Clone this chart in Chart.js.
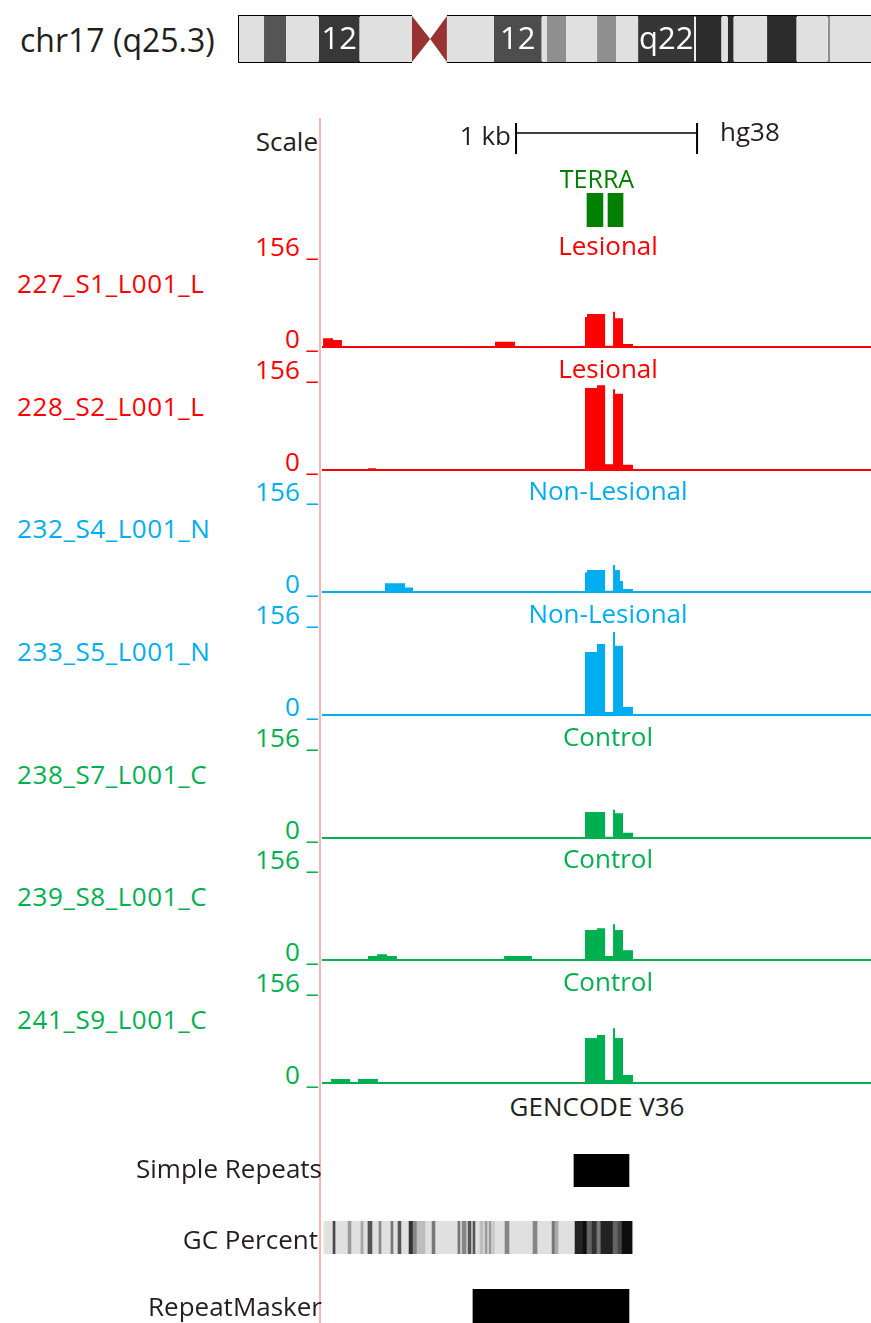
<!DOCTYPE html>
<html>
<head>
<meta charset="utf-8">
<script src="https://cdn.jsdelivr.net/npm/chart.js@4/dist/chart.umd.min.js"></script>
<style>
  html, body { margin: 0; padding: 0; background: #fff; }
  #page { position: relative; width: 871px; height: 1323px; overflow: hidden; font-family: "Open Sans", sans-serif; background: #fff; }
  #page canvas { position: absolute; }
  .t { position: absolute; white-space: nowrap; line-height: 1; }
  #guide { position: absolute; left: 319px; top: 118px; width: 2px; height: 1205px; background: #ffb4b4; }
</style>
</head>
<body>
<div id="page"><div id="guide"></div></div>
<script>
// ---- window and scales -------------------------------------------------
const WINDOW_BP = 3033;          // bases shown across the track area
const SIGNAL_MAX = 156;          // data range of every signal track
const CHROM_MB = 83.3;           // chr17 length shown in the ideogram
const scaleBarBp = [1072, 2072]; // 1 kb scale bar

// ---- chromosome ideogram bands (Mb) -------------------------------------
const bandStart = [0, 3.3, 6.2, 10.5, 15.9, 27.4, 33.6, 39.9, 40.6, 43.1, 47.2, 49.7, 52.6, 60.0, 60.2, 63.6, 64.4, 65.2, 69.6, 73.5, 77.6, 77.9];
const bandEnd   = [3.3, 6.2, 10.5, 15.9, 22.8, 33.6, 39.9, 40.6, 43.1, 47.2, 49.7, 52.6, 60.0, 60.2, 63.6, 64.4, 65.2, 69.6, 73.5, 77.6, 77.9, 83.3];
const bandStain = ['#e0e0e0', '#555555', '#e0e0e0', '#383838', '#e0e0e0', '#e0e0e0', '#4d4d4d', '#e0e0e0', '#8f8f8f', '#e0e0e0', '#8f8f8f', '#e0e0e0', '#363636', '#ececec', '#2b2b2b', '#e0e0e0', '#2b2b2b', '#e0e0e0', '#2b2b2b', '#e0e0e0', '#8f8f8f', '#e0e0e0'];
const bandLabel = ['', '', '', '12', '', '', '12', '', '', '', '', '', 'q22', '', '', '', '', '', '', '', '', ''];
const centromere = [22.8, 25.2, 27.4];

// ---- signal tracks: [start bp, end bp, value] ---------------------------
const s1Bins = [[6, 61, 15], [61, 110, 12], [956, 1066, 9], [1453, 1464, 52], [1464, 1564, 57], [1564, 1608, 2], [1608, 1619, 61], [1619, 1663, 50], [1663, 1718, 5]];
const s2Bins = [[254, 298, 3], [1453, 1519, 142], [1519, 1564, 147], [1564, 1608, 10], [1608, 1619, 140], [1619, 1663, 132], [1663, 1718, 9]];
const s4Bins = [[348, 459, 15], [459, 503, 8], [1453, 1464, 34], [1464, 1564, 38], [1564, 1608, 2], [1608, 1619, 47], [1619, 1646, 38], [1646, 1663, 19], [1663, 1718, 5]];
const s5Bins = [[1453, 1519, 109], [1519, 1564, 123], [1564, 1608, 5], [1608, 1619, 144], [1619, 1663, 120], [1663, 1718, 14]];
const s7Bins = [[1453, 1564, 45], [1564, 1608, 2], [1608, 1619, 49], [1619, 1663, 43], [1663, 1718, 9]];
const s8Bins = [[254, 304, 7], [304, 359, 10], [359, 414, 7], [1006, 1160, 7], [1453, 1519, 52], [1519, 1564, 55], [1564, 1608, 7], [1608, 1619, 62], [1619, 1663, 52], [1663, 1718, 17]];
const s9Bins = [[50, 155, 7], [199, 309, 7], [1453, 1519, 78], [1519, 1564, 83], [1564, 1608, 5], [1608, 1619, 95], [1619, 1663, 78], [1663, 1718, 14]];

const trackNames  = ['227_S1_L001_L', '228_S2_L001_L', '232_S4_L001_N', '233_S5_L001_N', '238_S7_L001_C', '239_S8_L001_C', '241_S9_L001_C'];
const trackGroups = ['Lesional', 'Lesional', 'Non-Lesional', 'Non-Lesional', 'Control', 'Control', 'Control'];
const trackBins   = [s1Bins, s2Bins, s4Bins, s5Bins, s7Bins, s8Bins, s9Bins];
const groupColor  = { 'Lesional': '#ff0000', 'Non-Lesional': '#00aeef', 'Control': '#00b050' };

// ---- annotation tracks (bp) ---------------------------------------------
const terraExons    = [[1464, 1552], [1580, 1663]];
const simpleRepeats = [[1392, 1696]];
const repeatMasker  = [[834, 1696]];
const gcSpan        = [11, 1713];
const gcStart = [61, 144, 215, 254, 315, 381, 420, 481, 503, 525, 608, 751, 774, 807, 834, 873, 901, 923, 945, 1011, 1166, 1271, 1287, 1398, 1442, 1464, 1492, 1519, 1541, 1608, 1635, 1658];
const gcEnd   = [72, 160, 227, 276, 326, 392, 436, 503, 525, 569, 624, 762, 796, 823, 845, 890, 912, 934, 950, 1033, 1188, 1287, 1304, 1442, 1464, 1492, 1519, 1541, 1608, 1635, 1658, 1713];
const gcValue = [66, 49, 46, 63, 53, 56, 63, 70, 53, 42, 56, 56, 53, 63, 63, 42, 49, 49, 42, 53, 53, 56, 46, 73, 77, 60, 70, 56, 73, 60, 66, 77];

// ---- helpers -------------------------------------------------------------
const page = document.getElementById('page');
const TRACK_LEFT = 322, TRACK_W = 549;
const TRACK_TOP0 = 257, TRACK_STEP = 122.67, TRACK_H = 90;

function canvasAt(x, y, w, h) {
  const c = document.createElement('canvas');
  c.width = w; c.height = h;
  c.style.left = x + 'px'; c.style.top = y + 'px';
  c.style.width = w + 'px'; c.style.height = h + 'px';
  page.appendChild(c);
  return c;
}

// text label whose visual middle sits at (x, y)
function text(str, x, y, opts) {
  const o = Object.assign({ align: 'left', size: 26, color: '#231f20', spacing: 0 }, opts || {});
  const d = document.createElement('div');
  d.className = 't';
  d.textContent = str;
  d.style.fontSize = o.size + 'px';
  d.style.letterSpacing = o.spacing + 'px';
  d.style.color = o.color;
  d.style.left = x + 'px';
  d.style.top = (y - 2) + 'px';
  const tx = o.align === 'left' ? '0' : (o.align === 'right' ? '-100%' : '-50%');
  d.style.transform = 'translate(' + tx + ',-50%)';
  page.appendChild(d);
}

const baseOptions = {
  responsive: false, maintainAspectRatio: false, animation: false,
  devicePixelRatio: 1, events: [],
  plugins: { legend: { display: false }, tooltip: { enabled: false } }
};

function gcGray(v) {
  const g = Math.round(Math.max(0, Math.min(224, 224 - (v - 35) / 45 * 224)));
  return 'rgb(' + g + ',' + g + ',' + g + ')';
}

// horizontal feature blocks on the shared bp axis
function featureTrack(top, height, spans, colors) {
  new Chart(canvasAt(TRACK_LEFT, top, TRACK_W, height), {
    type: 'bar',
    data: {
      labels: ['f'],
      datasets: [{
        data: spans.map(s => ({ y: 'f', x: s })),
        backgroundColor: colors,
        borderWidth: 0, barPercentage: 1, categoryPercentage: 1, grouped: false
      }]
    },
    options: Object.assign({}, baseOptions, {
      indexAxis: 'y',
      scales: {
        x: { type: 'linear', display: false, min: 0, max: WINDOW_BP },
        y: { display: false }
      }
    })
  });
}

// ---- ideogram -------------------------------------------------------------
const bandLabelPlugin = {
  id: 'bandLabels',
  afterDatasetsDraw(chart) {
    const { ctx, scales } = chart;
    ctx.save();
    ctx.fillStyle = '#ffffff';
    ctx.font = '31px "Open Sans", sans-serif';
    ctx.textAlign = 'center';
    ctx.textBaseline = 'middle';
    bandLabel.forEach((lab, i) => {
      if (!lab) return;
      const cx = (scales.x.getPixelForValue(bandStart[i]) + scales.x.getPixelForValue(bandEnd[i])) / 2;
      ctx.fillText(lab, cx, scales.y.getPixelForValue(0.5) + 1);
    });
    ctx.restore();
  }
};

(function ideogram() {
  const ds = bandStart.map((s, i) => ({
    data: [{ x: s, y: 1 }, { x: bandEnd[i], y: 1 }],
    showLine: true, fill: { value: 0 }, backgroundColor: bandStain[i],
    borderWidth: 0, pointRadius: 0
  }));
  const [c0, cm, c1] = centromere;
  ds.push({ data: [{ x: c0, y: 1 }, { x: cm, y: 0.5 }, { x: c1, y: 1 }], showLine: true, fill: '+1',
            backgroundColor: '#993333', borderWidth: 0, pointRadius: 0 });
  ds.push({ data: [{ x: c0, y: 0 }, { x: cm, y: 0.5 }, { x: c1, y: 0 }], showLine: true, fill: false,
            borderWidth: 0, pointRadius: 0 });
  const outline = { showLine: true, fill: false, borderColor: '#000', borderWidth: 2, pointRadius: 0, clip: false };
  ds.push(Object.assign({ data: [{ x: c0, y: 1 }, { x: 0, y: 1 }, { x: 0, y: 0 }, { x: c0, y: 0 }] }, outline));
  ds.push(Object.assign({ data: [{ x: c1, y: 1 }, { x: CHROM_MB, y: 1 }] }, outline));
  ds.push(Object.assign({ data: [{ x: c1, y: 0 }, { x: CHROM_MB, y: 0 }] }, outline));
  new Chart(canvasAt(238, 15, 633, 48), {
    type: 'scatter',
    data: { datasets: ds },
    options: Object.assign({}, baseOptions, {
      layout: { padding: { left: 1, top: 1, bottom: 1 } },
      scales: {
        x: { type: 'linear', display: false, min: 0, max: CHROM_MB },
        y: { display: false, min: 0, max: 1 }
      }
    }),
    plugins: [bandLabelPlugin]
  });
})();

// ---- scale bar ------------------------------------------------------------
(function scaleBar() {
  const [a, b] = scaleBarBp;
  const line = { showLine: true, fill: false, borderColor: '#000', borderWidth: 2, pointRadius: 0, clip: false };
  new Chart(canvasAt(TRACK_LEFT, 122, TRACK_W, 33), {
    type: 'scatter',
    data: { datasets: [
      Object.assign({ data: [{ x: a, y: 0.68 }, { x: b, y: 0.68 }] }, line, { borderWidth: 1.5 }),
      Object.assign({ data: [{ x: a, y: 0 }, { x: a, y: 1 }] }, line),
      Object.assign({ data: [{ x: b, y: 0 }, { x: b, y: 1 }] }, line)
    ] },
    options: Object.assign({}, baseOptions, {
      layout: { padding: { top: 1, bottom: 1 } },
      scales: {
        x: { type: 'linear', display: false, min: 0, max: WINDOW_BP },
        y: { display: false, min: 0, max: 1 }
      }
    })
  });
})();

// ---- gene track -------------------------------------------------------------
featureTrack(193, 34, terraExons, '#008000');

// ---- signal tracks ------------------------------------------------------------
trackBins.forEach((bins, i) => {
  const color = groupColor[trackGroups[i]];
  const top = Math.round(TRACK_TOP0 + i * TRACK_STEP);
  const pts = [];
  bins.forEach(([s, e, v]) => {
    pts.push({ x: s, y: 0 }, { x: s, y: v }, { x: e, y: v }, { x: e, y: 0 });
  });
  new Chart(canvasAt(TRACK_LEFT, top, TRACK_W, TRACK_H + 2), {
    type: 'scatter',
    data: { datasets: [
      { data: pts, showLine: true, fill: 'origin', backgroundColor: color,
        borderWidth: 0, pointRadius: 0, clip: false },
      { data: [{ x: 0, y: 0 }, { x: WINDOW_BP, y: 0 }], showLine: true, fill: false,
        borderColor: color, borderWidth: 2, pointRadius: 0, clip: false }
    ] },
    options: Object.assign({}, baseOptions, {
      layout: { padding: { bottom: 2 } },
      scales: {
        x: { type: 'linear', display: false, min: 0, max: WINDOW_BP },
        y: { display: false, min: 0, max: SIGNAL_MAX }
      }
    })
  });
  text(trackNames[i], 17, top + 28, { color: color, size: 26, spacing: 0.6 });
  text(SIGNAL_MAX + ' _', 318, top - 9, { align: 'right', color: color, size: 26 });
  text('0 _', 318, top + 83, { align: 'right', color: color, size: 26 });
  text(trackGroups[i], 608, top - 10, { align: 'center', color: color, size: 26 });
});

// ---- bottom annotation tracks -------------------------------------------------
featureTrack(1154, 33, simpleRepeats, '#000000');
featureTrack(1221, 33, [gcSpan].concat(gcStart.map((s, i) => [s, gcEnd[i]])),
             ['#e0e0e0'].concat(gcValue.map(gcGray)));
featureTrack(1289, 34, repeatMasker, '#000000');

// ---- text labels ----------------------------------------------------------------
text('chr17 (q25.3)', 20, 42, { size: 32 });
text('Scale', 318, 143, { align: 'right' });
text('1 kb', 511, 137, { align: 'right' });
text('hg38', 720, 133);
text('TERRA', 597, 180, { align: 'center', color: '#008000', size: 25 });
text('GENCODE V36', 597, 1108, { align: 'center' });
text('Simple Repeats', 322, 1170, { align: 'right' });
text('GC Percent', 318, 1241, { align: 'right' });
text('RepeatMasker', 322, 1308, { align: 'right' });
</script>
</body>
</html>
